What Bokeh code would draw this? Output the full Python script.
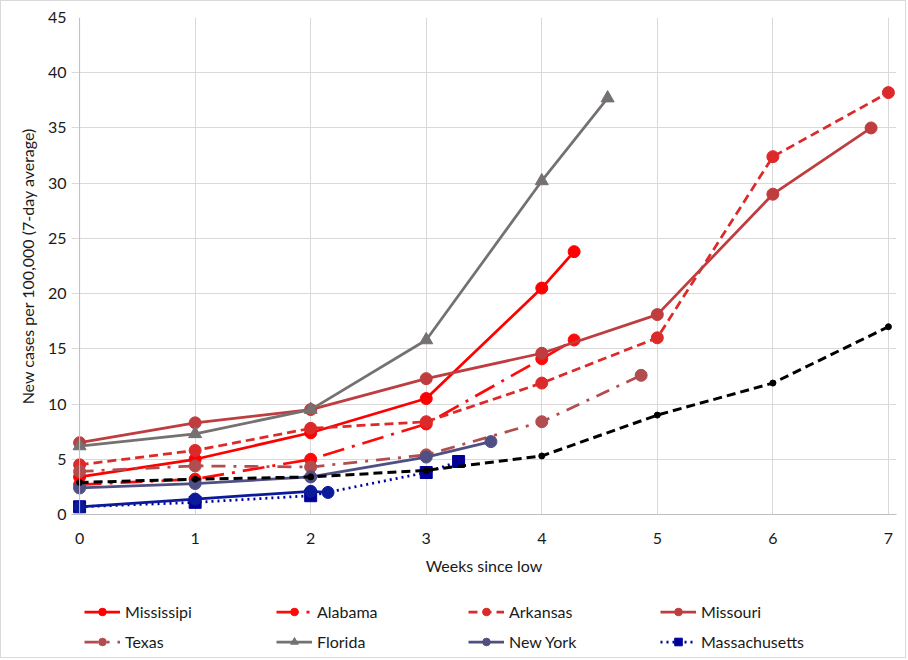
from bokeh.plotting import figure
from bokeh.layouts import column
from bokeh.models import Range1d, Legend, LegendItem, Span, FixedTicker
from bokeh.embed import file_html
from bokeh.resources import INLINE

# ---- data ----
x_ticks = [0, 1, 2, 3, 4, 5, 6, 7]
y_ticks = [0, 5, 10, 15, 20, 25, 30, 35, 40, 45]

weeks_ms = [0, 1, 2, 3, 4, 4.28]
mississippi = [3.4, 5.0, 7.4, 10.5, 20.5, 23.8]

weeks_al = [0, 1, 2, 3, 4, 4.28]
alabama = [2.7, 3.2, 5.0, 8.2, 14.1, 15.8]

weeks_ar = [0, 1, 2, 3, 4, 5, 6, 7]
arkansas = [4.5, 5.8, 7.8, 8.4, 11.9, 16.0, 32.4, 38.2]

weeks_mo = [0, 1, 2, 3, 4, 5, 6, 6.85]
missouri = [6.5, 8.3, 9.5, 12.3, 14.6, 18.1, 29.0, 35.0]

weeks_tx = [0, 1, 2, 3, 4, 4.86]
texas = [3.9, 4.4, 4.3, 5.4, 8.4, 12.6]

weeks_fl = [0, 1, 2, 3, 4, 4.57]
florida = [6.2, 7.3, 9.5, 15.8, 30.2, 37.7]

weeks_ny = [0, 1, 2, 3, 3.56]
new_york = [2.4, 2.8, 3.4, 5.2, 6.6]

weeks_ma = [0, 1, 2, 3, 3.28]
massachusetts = [0.7, 1.1, 1.7, 3.8, 4.8]

weeks_us = [0, 1, 2, 3, 4, 5, 6, 7]
us_black = [2.9, 3.2, 3.4, 4.0, 5.3, 9.0, 11.9, 17.0]

weeks_nv = [0, 1, 2, 2.15]
navy_solid = [0.7, 1.4, 2.1, 2.0]

FONT = "Lato"
TXT = "#1a1a1a"

p = figure(width=904, height=590,
           x_range=Range1d(-0.07, 7.07), y_range=Range1d(0, 45),
           output_backend="svg", toolbar_location=None,
           min_border_left=70, min_border_right=9, min_border_top=16,
           min_border_bottom=77)

p.outline_line_color = None
p.background_fill_color = "white"
p.border_fill_color = "white"

p.xaxis.ticker = FixedTicker(ticks=x_ticks)
p.yaxis.ticker = FixedTicker(ticks=y_ticks)
for ax in (p.xaxis[0], p.yaxis[0]):
    ax.major_tick_line_color = None
    ax.minor_tick_line_color = None
    ax.major_tick_out = 0
    ax.minor_tick_out = 0
    ax.major_label_text_font = FONT
    ax.major_label_text_font_size = "16px"
    ax.major_label_text_color = TXT
    ax.axis_label_text_font = FONT
    ax.axis_label_text_font_size = "16px"
    ax.axis_label_text_font_style = "normal"
    ax.axis_label_text_color = TXT
p.xaxis.axis_line_color = "#bfbfbf"
p.yaxis.axis_line_color = None
p.xaxis.major_label_standoff = 18
p.yaxis.major_label_standoff = 5
p.xaxis.axis_label = "Weeks since low"
p.yaxis.axis_label = "New cases per 100,000 (7-day average)"
p.xaxis.axis_label_standoff = 9
p.yaxis.axis_label_standoff = 8

p.xgrid.ticker = FixedTicker(ticks=x_ticks)
p.ygrid.ticker = FixedTicker(ticks=y_ticks)
p.xgrid.grid_line_color = "#d9d9d9"
p.ygrid.grid_line_color = "#d9d9d9"

p.add_layout(Span(location=0, dimension="height", line_color="#bfbfbf", line_width=1))

# legend lives in a small companion figure under the chart; its key glyphs
# use the first point of each series, placed outside that figure's ranges
lg = figure(width=904, height=66, output_backend="svg", toolbar_location=None,
            x_range=Range1d(-100, -99), y_range=Range1d(-100, -99),
            x_axis_location=None, y_axis_location=None,
            min_border_left=0, min_border_right=0, min_border_top=0,
            min_border_bottom=0)
lg.outline_line_color = None
lg.xgrid.visible = False
lg.ygrid.visible = False

items = {}

def series(x, y, color, dash, marker, msize, lw, label):
    p.line(x, y, line_color=color, line_width=lw, line_dash=dash)
    p.scatter(x, y, marker=marker, size=msize, fill_color=color, line_color=color)
    if label:
        k1 = lg.line(x[:1], y[:1], line_color=color, line_width=lw, line_dash=dash)
        k2 = lg.scatter(x[:1], y[:1], marker=marker, size=msize, fill_color=color, line_color=color)
        items[label] = LegendItem(label=label, renderers=[k1, k2])

series(weeks_ms, mississippi, "#ff0000", "solid", "circle", 12, 2.75, "Mississipi")
series(weeks_al, alabama, "#ff0a0a", "22 8 3 8", "circle", 12, 2.75, "Alabama")
series(weeks_ar, arkansas, "#dc2a2a", "9 5", "circle", 12, 2.75, "Arkansas")
series(weeks_mo, missouri, "#bf3c3f", "solid", "circle", 12, 2.75, "Missouri")
series(weeks_tx, texas, "#b24d4f", "14 8 3 8", "circle", 12, 2.75, "Texas")
series(weeks_fl, florida, "#767171", "solid", "triangle", 13, 2.75, "Florida")
series(weeks_ny, new_york, "#4f4f84", "solid", "circle", 12, 2.75, "New York")
series(weeks_ma, massachusetts, "#000099", "2 4", "square", 12, 2.75, "Massachusetts")
series(weeks_us, us_black, "#000000", "9 5", "circle", 6, 3, None)
series(weeks_nv, navy_solid, "#0a1a99", "solid", "circle", 12, 2.75, None)

# grid is filled column by column -> this order reads row by row like the reference
legend_order = ["Mississipi", "Texas", "Alabama", "Florida",
                "Arkansas", "New York", "Missouri", "Massachusetts"]

legend = Legend(items=[items[k] for k in legend_order], ncols=4,
                location=(13, 6),
                border_line_color=None, background_fill_alpha=0,
                label_text_font=FONT, label_text_font_size="16px",
                label_text_color=TXT,
                glyph_width=36, glyph_height=19, label_width=140,
                label_height=19, label_standoff=5, spacing=11,
                padding=7, margin=0)
lg.add_layout(legend, "center")

layout = column(p, lg, spacing=0)
layout.styles = {"border": "1px solid #d9d9d9"}

open("out.html", "w").write(file_html(layout, INLINE))
